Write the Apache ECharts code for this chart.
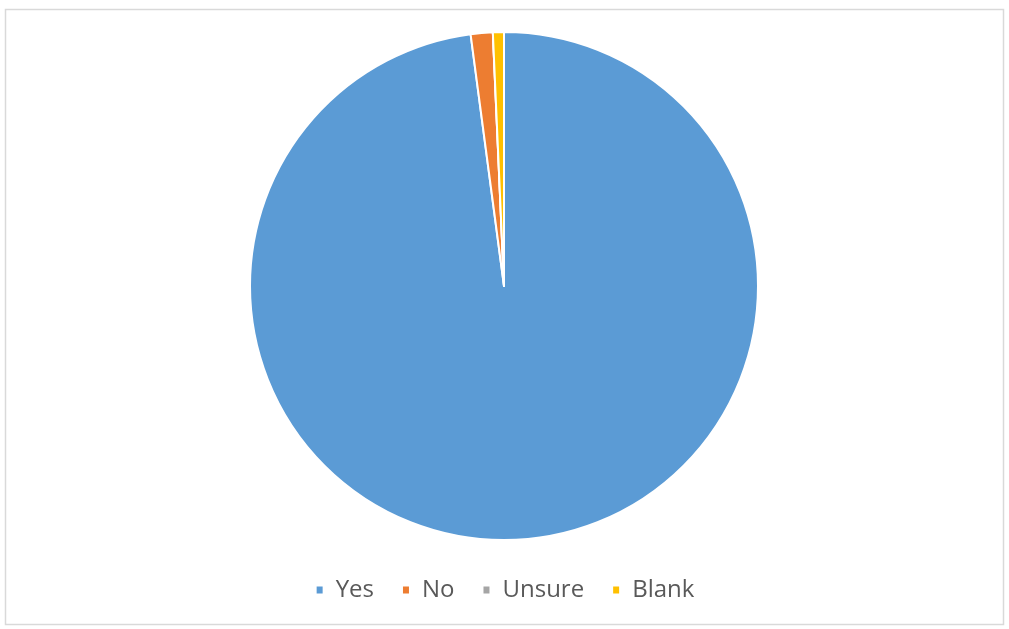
<!DOCTYPE html>
<html><head><meta charset="utf-8">
<script src="https://cdn.jsdelivr.net/npm/echarts@6/dist/echarts.min.js"></script>
<style>html,body{margin:0;padding:0;background:#fff}#c{width:1009px;height:629px}</style>
</head><body><div id="c"></div>
<script>
const categories = ['Yes', 'No', 'Unsure', 'Blank'];
const values = [97.9, 1.4, 0, 0.7];
const colors = ['#5B9BD5', '#ED7D31', '#A5A5A5', '#FFC000'];

const chart = echarts.init(document.getElementById('c'));
chart.setOption({
  animation: false,
  color: colors,
  graphic: [{
    type: 'rect', shape: {x: 5.5, y: 9.5, width: 998, height: 615},
    style: {fill: 'none', stroke: '#d9d9d9', lineWidth: 1.5}
  }],
  legend: {
    data: categories,
    top: 578,
    left: 'center',
    padding: 0,
    itemWidth: 8, itemHeight: 9, itemGap: 27,
    icon: 'rect',
    textStyle: {fontFamily: 'Open Sans', fontSize: 24, color: '#595959', padding: [0, 0, 0, 7]}
  },
  series: [{
    type: 'pie',
    center: [504, 286],
    radius: 254,
    startAngle: 90,
    clockwise: true,
    label: {show: false},
    labelLine: {show: false},
    itemStyle: {borderColor: '#fff', borderWidth: 2},
    emphasis: {disabled: true},
    data: categories.map((c, i) => ({name: c, value: values[i]}))
  }]
});
</script></body></html>
